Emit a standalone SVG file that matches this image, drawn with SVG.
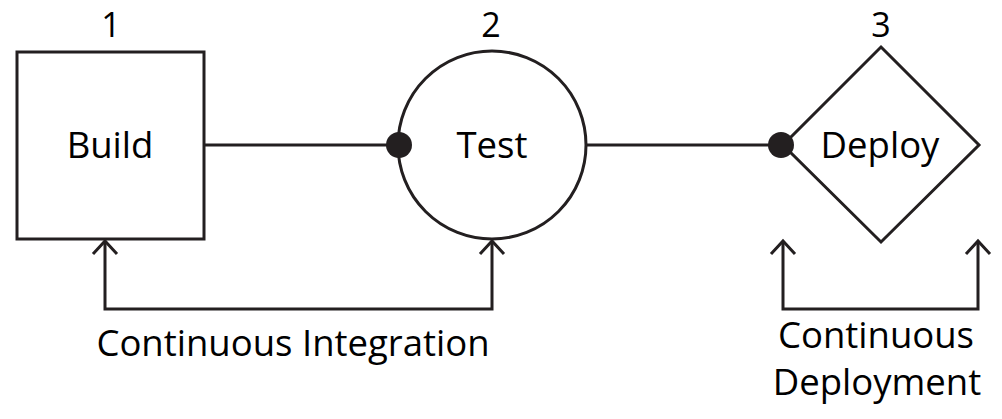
<svg xmlns="http://www.w3.org/2000/svg" width="1002" height="419" viewBox="0 0 1002 419">
<defs>
<style>
.shape{fill:#fff;stroke:#231f20;stroke-width:3}
.line{fill:none;stroke:#231f20;stroke-width:3}
.dot{fill:#231f20}
text{font-family:"Open Sans","Noto Sans",sans-serif;fill:#000;text-anchor:middle;font-size:36.5px}
.num{font-size:34px}
</style>
</defs>
<rect width="1002" height="419" fill="#fff"/>
<g id="connectors">
<line class="line" x1="204" y1="145" x2="399" y2="145"/>
<line class="line" x1="586" y1="145" x2="781" y2="145"/>
<path class="line" d="M105 241 V309 H492 V241"/>
<path class="line" d="M93 254 L105 241 L117 254"/>
<path class="line" d="M480 254 L492 241 L504 254"/>
<path class="line" d="M783 241 V309 H978 V241"/>
<path class="line" d="M771 254 L783 241 L795 254"/>
<path class="line" d="M966 254 L978 241 L990 254"/>
</g>
<g id="build">
<rect class="shape" x="17" y="52" width="187" height="187"/>
<text class="num" x="111" y="37">1</text>
<text x="110" y="158">Build</text>
</g>
<g id="test">
<circle class="shape" cx="492" cy="145" r="94"/>
<circle class="dot" cx="399" cy="145" r="13"/>
<text class="num" x="491" y="37">2</text>
<text x="492" y="158">Test</text>
</g>
<g id="deploy">
<polygon class="shape" points="881,47 979,145 881,242 783,145"/>
<circle class="dot" cx="781" cy="145" r="13"/>
<text class="num" x="881" y="37">3</text>
<text x="880" y="158">Deploy</text>
</g>
<g id="labels">
<text x="293" y="356">Continuous Integration</text>
<text x="876" y="348">Continuous</text>
<text x="877" y="395">Deployment</text>
</g>
</svg>
